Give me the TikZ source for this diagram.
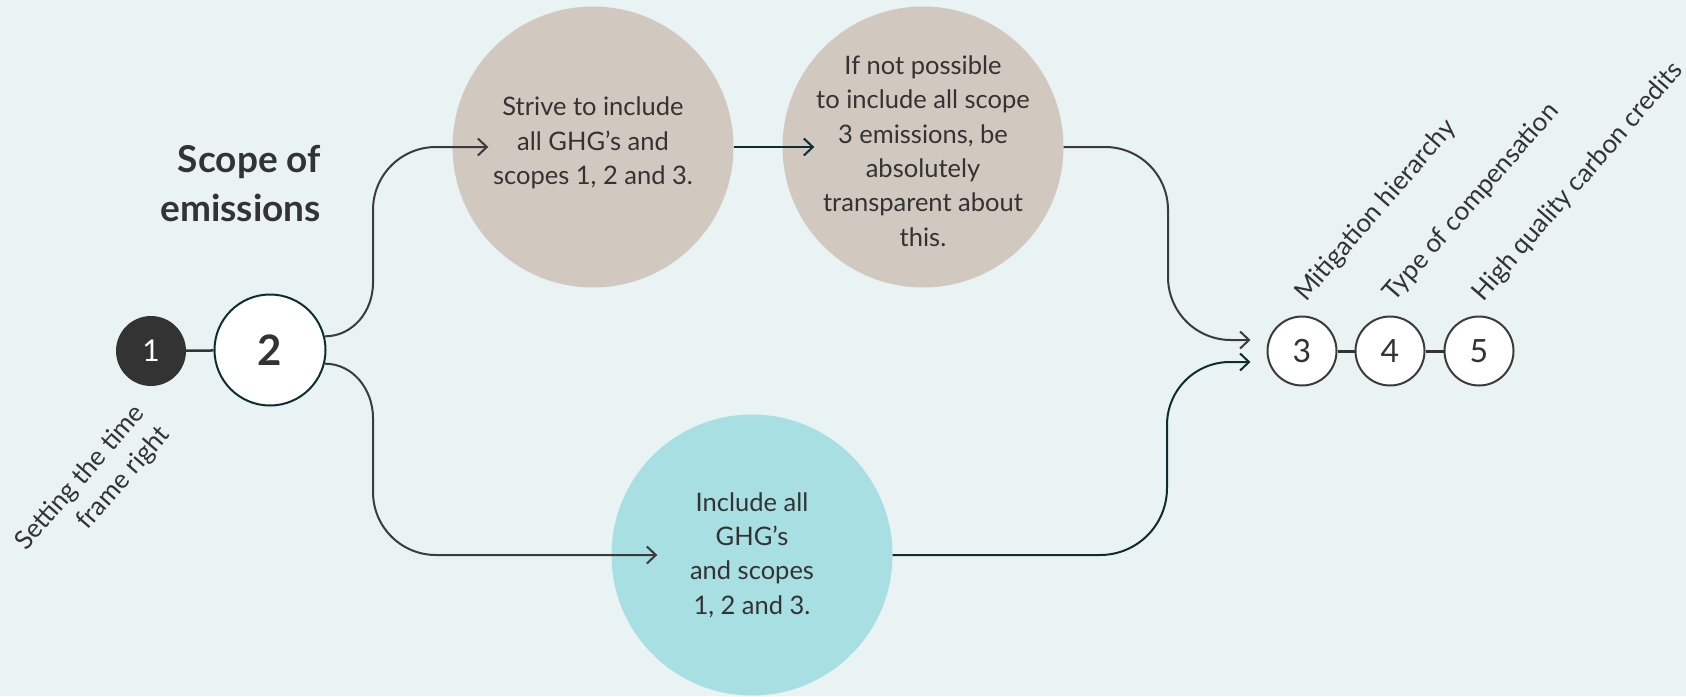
\documentclass[tikz,border=0pt]{standalone}
\usepackage{fontspec}
\setmainfont{Lato}
\usetikzlibrary{arrows.meta}
\definecolor{myPaleBlue}{RGB}{233,243,244}
\definecolor{myStone}{RGB}{209,200,191}
\definecolor{myAqua}{RGB}{168,223,226}
\definecolor{myCharcoal}{RGB}{51,51,51}
\definecolor{myLine}{RGB}{59,59,59}
\definecolor{myDeepTeal}{RGB}{14,45,48}

\tikzset{
  bubble/.style={circle, minimum size=281pt, inner sep=0pt},
  bubbletext/.style={align=center, text=myCharcoal, inner sep=0pt, font=\fontsize{25.5}{34.3}\selectfont},
  stepdot/.style={circle, draw=myLine, line width=2pt, fill=white, inner sep=0pt, minimum size=69pt, text=myCharcoal, font=\fontsize{32}{32}\selectfont},
  tilted/.style={rotate=49, inner sep=0pt, text=myCharcoal, font=\fontsize{26}{33}\selectfont},
  flow/.style={->, line width=2pt, draw=myLine},
}

\begin{document}
\begin{tikzpicture}[x=1pt, y=-1pt, >={Straight Barb[length=9pt,width=17pt]}]
			\path[use as bounding box, fill=myPaleBlue] (0,0) rectangle (1686,696);

			% the three options
			\draw (593,147) node[bubble, fill=myStone] (A) {};
			\draw (923,147) node[bubble, fill=myStone] (B) {};
			\draw (752,555) node[bubble, fill=myAqua] (C) {};
			\node[bubbletext] (At) at ([yshift=4pt]A) {Strive to include\\all GHG’s and\\scopes 1, 2 and 3.};
			\node[bubbletext] (Bt) at ([yshift=-4pt]B) {If not possible\\to include all scope\\3 emissions, be\\absolutely\\transparent about\\this.};
			\node[bubbletext] (Ct) at (C) {Include all\\GHG’s\\and scopes\\1, 2 and 3.};

			% the steps
			\draw (151,351) node[circle, fill=myCharcoal, minimum size=70pt, inner sep=0pt, text=white, font=\fontsize{30}{30}\selectfont] (n1) {1};
			\draw (270,350) node[circle, draw=myDeepTeal, line width=2pt, fill=white, minimum size=111pt, inner sep=0pt, text=myCharcoal, font=\bfseries\fontsize{42}{42}\selectfont] (n2) {2};
			\draw (1302,351) node[stepdot] (n3) {3};
			\draw (1390,351) node[stepdot] (n4) {4};
			\draw (1479,351) node[stepdot] (n5) {5};

			\node[align=right, anchor=north east, inner sep=0pt, text=myCharcoal, font=\bfseries\fontsize{37}{49}\selectfont] (title) at (321,145) {Scope of\\emissions};
			\node[tilted, align=right] (l1) at (93,489) {Setting the time\\frame right};
			\node[tilted, anchor=base west] (l3) at ([xshift=4pt, yshift=13pt]n3.north) {Mitigation hierarchy};
			\node[tilted, anchor=base west] (l4) at ([xshift=4pt, yshift=13pt]n4.north) {Type of compensation};
			\node[tilted, anchor=base west] (l5) at ([xshift=4pt, yshift=13pt]n5.north) {High quality carbon credits};

			\coordinate (in3top) at ([xshift=-16pt, yshift=11pt]n3.west);
			\coordinate (in3low) at ([xshift=-16pt, yshift=-11pt]n3.west);

			\path[line width=2.5pt]
			(n1) edge[myCharcoal] (n2)
			(n3) edge[myCharcoal, line width=3pt] (n4)
			(n4) edge[myCharcoal, line width=3pt] (n5)
			;
			\path[flow]
			(A) edge[myDeepTeal] ([xshift=32pt]B.west)
			;

			\draw[flow] (n2.14) to[out=0,in=-90] (373,283) -- (373,210) to[out=90,in=180] (436,147) -- ([xshift=36pt]A.west);
			\draw[flow] (n2.-14) to[out=0,in=90] (373,418) -- (373,492) to[out=-90,in=180] (436,555) -- ([xshift=46pt]C.west);
			\draw[flow] (B.east) -- (1105,147) to[out=0,in=90] (1168,210) -- (1168,277) to[out=-90,in=180] (1231,340) -- (in3top);
			\draw[flow, myDeepTeal] (C.east) -- (1100,555) to[out=0,in=-90] (1167,488) -- (1167,425) to[out=90,in=180] (1230,362) -- (in3low);
		\end{tikzpicture}
\end{document}
